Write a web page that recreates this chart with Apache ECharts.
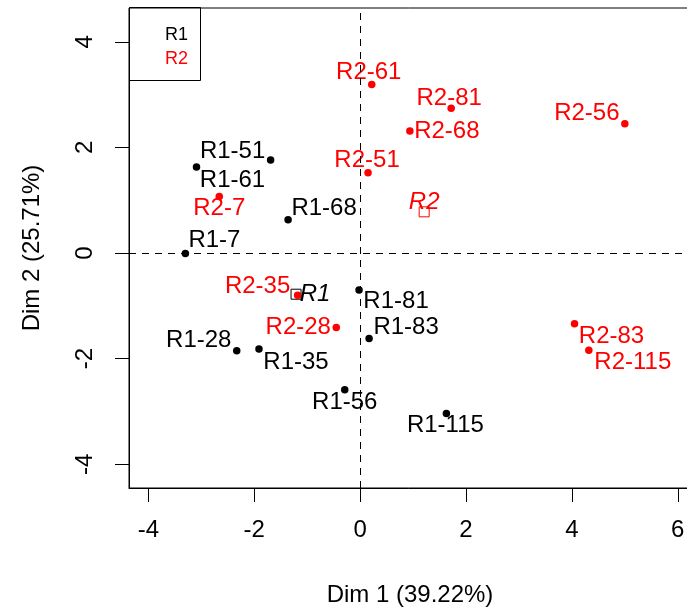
<!DOCTYPE html>
<html>
<head>
<meta charset="utf-8">
<script src="https://cdn.jsdelivr.net/npm/echarts@6/dist/echarts.min.js"></script>
<style>html,body{margin:0;padding:0;background:#fff}#c{width:687px;height:612px}</style>
</head>
<body>
<div id="c"></div>
<script>
// ---- data ----
const r1Names = ['R1-51','R1-61','R1-68','R1-7','R1-81','R1-83','R1-28','R1-35','R1-56','R1-115'];
const r1X = [-1.69,-3.09,-1.36,-3.30,-0.02,0.17,-2.33,-1.91,-0.29,1.63];
const r1Y = [1.76,1.63,0.63,-0.01,-0.70,-1.62,-1.85,-1.82,-2.59,-3.04];
const r2Names = ['R2-61','R2-81','R2-56','R2-68','R2-51','R2-7','R2-35','R2-28','R2-83','R2-115'];
const r2X = [0.22,1.72,5.00,0.94,0.15,-2.66,-1.18,-0.45,4.05,4.32];
const r2Y = [3.19,2.74,2.45,2.31,1.52,1.07,-0.80,-1.41,-1.34,-1.84];
const groupNames = ['R1','R2'];
const groupX = [-1.21,1.21];
const groupY = [-0.78,0.78];
const xTicks = [-4,-2,0,2,4,6];
const yTicks = [-4,-2,0,2,4];
const xTitle = 'Dim 1 (39.22%)';
const yTitle = 'Dim 2 (25.71%)';

// ---- label placement (pixel offsets from point) ----
const labelOffsets = {
  'R1-51':[-38,-9],'R1-61':[36,13],'R1-68':[36,-11],'R1-7':[29,-13],'R1-81':[37,11],
  'R1-83':[37,-11],'R1-28':[-38,-10],'R1-35':[37,13],'R1-56':[0,13],'R1-115':[-1,12],
  'R2-61':[-3,-12],'R2-81':[-2,-10],'R2-56':[-38,-10],'R2-68':[37,0],'R2-51':[-1,-12],
  'R2-7':[0,12],'R2-35':[-40,-9],'R2-28':[-38,0],'R2-83':[37,13],'R2-115':[44,12],
  'R1':[19,0],'R2':[0,-10]
};
const colors = {R1:'#000000', R2:'#FF0000'};
const FONT = '"Liberation Sans", Arial, sans-serif';

function pts(names, xs, ys, color){
  return names.map((n,i)=>({
    name:n, value:[xs[i],ys[i]],
    label:{show:true, position:'inside', offset:labelOffsets[n], formatter:n, color:color,
           fontSize:24, fontFamily:FONT}
  }));
}
function centroid(i){
  const n = groupNames[i], c = colors[n];
  return {name:n, value:[groupX[i],groupY[i]], symbol:'rect', symbolSize:10,
    itemStyle:{color:'rgba(0,0,0,0)', borderColor:c, borderWidth:1, opacity:1},
    label:{show:true, position:'inside', offset:labelOffsets[n], formatter:n, color:c,
           fontSize:24, fontStyle:'italic', fontFamily:FONT}};
}

const chart = echarts.init(document.getElementById('c'), null, {renderer:'canvas'});
const axisCommon = {
  type:'value',
  axisLine:{show:true, onZero:false, lineStyle:{color:'#000', width:1}},
  axisTick:{show:true, inside:false, length:14, lineStyle:{color:'#000'}},
  splitLine:{show:false},
  nameLocation:'middle',
  nameTextStyle:{color:'#000', fontSize:24, fontFamily:FONT}
};
chart.setOption({
  animation:false,
  backgroundColor:'#fff',
  grid:{left:129, top:8, width:562, height:480, outerBoundsMode:'none', containLabel:false,
        show:true, borderColor:'#000', borderWidth:1, backgroundColor:'rgba(0,0,0,0)'},
  legend:{
    data:[{name:'R1', textStyle:{color:colors.R1}},{name:'R2', textStyle:{color:colors.R2}}],
    orient:'vertical', left:155, top:21, icon:'none', itemWidth:0, itemHeight:14, itemGap:6,
    selectedMode:false,
    textStyle:{fontSize:18, fontFamily:FONT}
  },
  graphic:[{type:'rect', shape:{x:129.5, y:7.5, width:71, height:73}, style:{fill:'none', stroke:'#000', lineWidth:1}, z:0}],
  xAxis:Object.assign({}, axisCommon, {
    min:-4.365, max:6.25, interval:2,
    name:xTitle, nameGap:95,
    axisLabel:{color:'#000', fontSize:24, fontFamily:FONT, margin:30,
      customValues:xTicks, formatter:v=>String(v)},
    axisTick:Object.assign({}, axisCommon.axisTick, {customValues:xTicks})
  }),
  yAxis:Object.assign({}, axisCommon, {
    min:-4.45, max:4.64, interval:2,
    name:yTitle, nameGap:85,
    axisLabel:{color:'#000', fontSize:24, fontFamily:FONT, margin:32, rotate:90,
      customValues:yTicks, formatter:v=>String(v)},
    axisTick:Object.assign({}, axisCommon.axisTick, {customValues:yTicks})
  }),
  series:[
    {name:'R1', type:'scatter', symbol:'circle', symbolSize:7.5, itemStyle:{color:colors.R1, opacity:1},
     data:pts(r1Names,r1X,r1Y,colors.R1).concat([centroid(0)]),
     markLine:{silent:true, symbol:'none', label:{show:false},
       lineStyle:{color:'#000', type:[7,6], width:1, opacity:1},
       data:[{xAxis:0},{yAxis:0}]}
    },
    {name:'R2', type:'scatter', symbol:'circle', symbolSize:7.5, itemStyle:{color:colors.R2, opacity:1},
     data:pts(r2Names,r2X,r2Y,colors.R2).concat([centroid(1)])}
  ]
});
</script>
</body>
</html>
